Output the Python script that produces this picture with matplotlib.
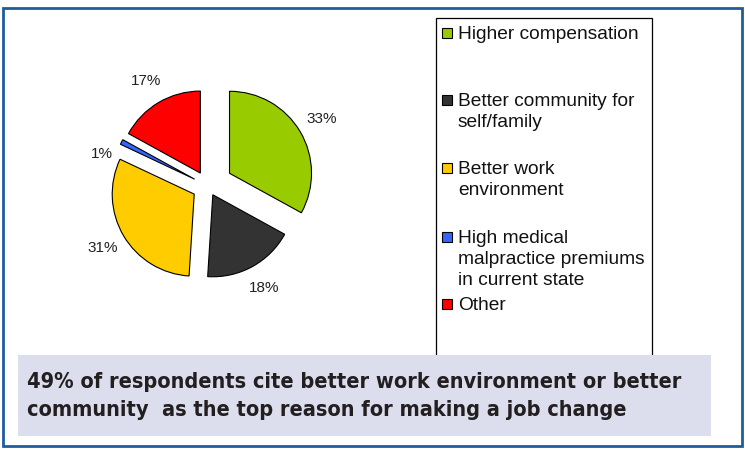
import matplotlib
matplotlib.use('Agg')
import matplotlib.pyplot as plt
from matplotlib.patches import Rectangle

# data
reasons = ['Higher compensation', 'Better community for\nself/family', 'Better work\nenvironment',
           'High medical\nmalpractice premiums\nin current state', 'Other']
shares = [33, 18, 31, 1, 17]
colors = ['#99cc00', '#333333', '#ffcc00', '#3366ff', '#ff0000']
caption = ('49% of respondents cite better work environment or better\n'
           'community  as the top reason for making a job change')

W, H = 745, 449
plt.rcParams['font.family'] = ['Liberation Sans', 'DejaVu Sans']

fig = plt.figure(figsize=(W / 100, H / 100), dpi=100)
ax = fig.add_axes([0, 0, 1, 1])

# pie (pixel coords, y measured from the bottom); explode is in pixels here
explode = [25, 10, 16, 15, 15]
wedges, texts, autotexts = ax.pie(shares, colors=colors, startangle=90, counterclock=False,
                                  explode=explode, center=(208, H - 186), radius=82,
                                  autopct=lambda p: '%.0f%%' % p, pctdistance=1.3,
                                  wedgeprops=dict(edgecolor='black', linewidth=0.8),
                                  textprops=dict(fontsize=11, color='#222222'))
# the 1% label sits a bit lower in the original
x, y = autotexts[3].get_position()
autotexts[3].set_position((x + 2, y - 23))

ax.set_xlim(0, W)
ax.set_ylim(0, H)
ax.set_aspect('auto')
ax.axis('off')

# outer frame
ax.add_patch(Rectangle((3, H - 446), 739, 438, fill=False, edgecolor='#1f5c9e', linewidth=2, zorder=1))

# legend box (bottom runs under the caption box)
ax.add_patch(Rectangle((436, H - 360), 216, 342, fill=False, edgecolor='black', linewidth=0.9, zorder=2))
legend_top = [33, 100, 168, 237, 304]
for name, col, ty in zip(reasons, colors, legend_top):
    ax.add_patch(Rectangle((442, H - ty - 5), 10, 10, facecolor=col, edgecolor='black',
                           linewidth=0.8, zorder=3))
    ax.text(458, H - ty + 7, name, fontsize=13.8, va='top', ha='left', linespacing=1.3,
            color='#111111', zorder=3)

# caption box
ax.add_patch(Rectangle((18, H - 436), 693, 81, facecolor='#dcdeed', edgecolor='none', zorder=4))
ax.text(27, H - 396, caption, fontsize=15.6, fontweight='bold', fontstretch='condensed',
        va='center', ha='left', family=['DejaVu Sans'], color='#231f20', linespacing=1.5, zorder=5)

fig.savefig('out.png', dpi=100)
